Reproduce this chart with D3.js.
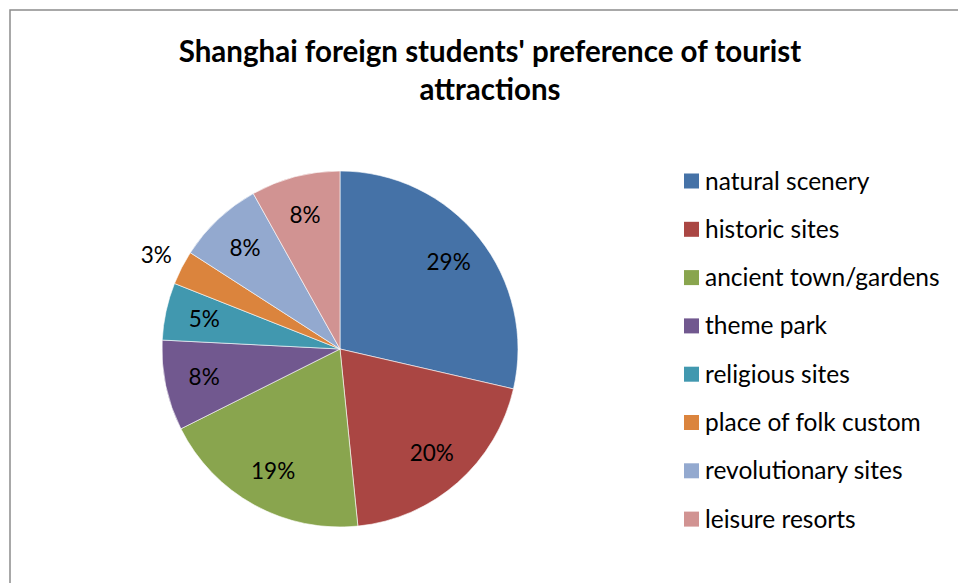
<!DOCTYPE html>
<html lang="en">
<head>
  <meta charset="UTF-8">
  <title>Shanghai foreign students' preference of tourist attractions</title>
  <script src="https://d3js.org/d3.v7.min.js"></script>
  <style>
    body {
      margin: 0;
      background: #ffffff;
      font-family: "Lato", "Open Sans", sans-serif;
    }
    .title {
      font-size: 29.5px;
      font-weight: bold;
      fill: #000;
    }
    .slice-label {
      font-size: 22.5px;
      fill: #000;
    }
    .legend-label {
      font-size: 24.5px;
      fill: #000;
    }
  </style>
</head>
<body>
  <script>
    const categories = ["natural scenery", "historic sites", "ancient town/gardens", "theme park",
      "religious sites", "place of folk custom", "revolutionary sites", "leisure resorts"];
    const shares = [28.6, 19.8, 19.2, 8.2, 5.2, 3.1, 7.8, 8.1];
    const colors = ["#4572a7", "#aa4643", "#89a54e", "#71588f", "#4198af", "#db843d", "#93a9cf", "#d19392"];
    const titleLines = ["Shanghai foreign students' preference of tourist", "attractions"];

    const width = 958, height = 583;
    const cx = 340, cy = 349, radius = 178;

    const svg = d3.select("body").append("svg")
      .attr("width", width)
      .attr("height", height);

    svg.append("rect")
      .attr("x", 10)
      .attr("y", 10)
      .attr("width", width + 20)
      .attr("height", height + 20)
      .attr("fill", "#fff")
      .attr("stroke", "#8c8c8c")
      .attr("stroke-width", 1.5);

    svg.selectAll(".title")
      .data(titleLines)
      .enter().append("text")
      .attr("class", "title")
      .attr("x", 490)
      .attr("y", (d, i) => 62 + i * 38)
      .attr("text-anchor", "middle")
      .text(d => d);

    const data = categories.map((c, i) => ({name: c, value: shares[i], color: colors[i]}));
    const total = d3.sum(shares);

    const pie = d3.pie().sort(null).value(d => d.value);
    const arc = d3.arc().innerRadius(0).outerRadius(radius);
    const labelArc = d3.arc().innerRadius(radius * 0.78).outerRadius(radius * 0.78);
    const outerArc = d3.arc().innerRadius(radius * 1.16).outerRadius(radius * 1.16);

    const g = svg.append("g")
      .attr("transform", "translate(" + cx + "," + cy + ")");

    const arcs = pie(data);

    g.selectAll("path")
      .data(arcs)
      .enter().append("path")
      .attr("d", arc)
      .attr("fill", d => d.data.color)
      .attr("stroke", "#ffffff")
      .attr("stroke-width", 0.6);

    g.selectAll(".slice-label")
      .data(arcs)
      .enter().append("text")
      .attr("class", "slice-label")
      .attr("transform", d => {
        const p = (d.data.value / total < 0.04 ? outerArc : labelArc).centroid(d);
        return "translate(" + p[0] + "," + p[1] + ")";
      })
      .attr("text-anchor", "middle")
      .attr("dy", "0.35em")
      .text(d => Math.round(d.data.value / total * 100) + "%");

    const legend = svg.append("g")
      .attr("transform", "translate(684,181)");

    const rows = legend.selectAll("g")
      .data(data)
      .enter().append("g")
      .attr("transform", (d, i) => "translate(0," + i * 48.3 + ")");

    rows.append("rect")
      .attr("x", 0)
      .attr("y", -7.5)
      .attr("width", 15)
      .attr("height", 15)
      .attr("fill", d => d.color);

    rows.append("text")
      .attr("class", "legend-label")
      .attr("x", 21)
      .attr("dy", "0.35em")
      .text(d => d.name);
  </script>
</body>
</html>
